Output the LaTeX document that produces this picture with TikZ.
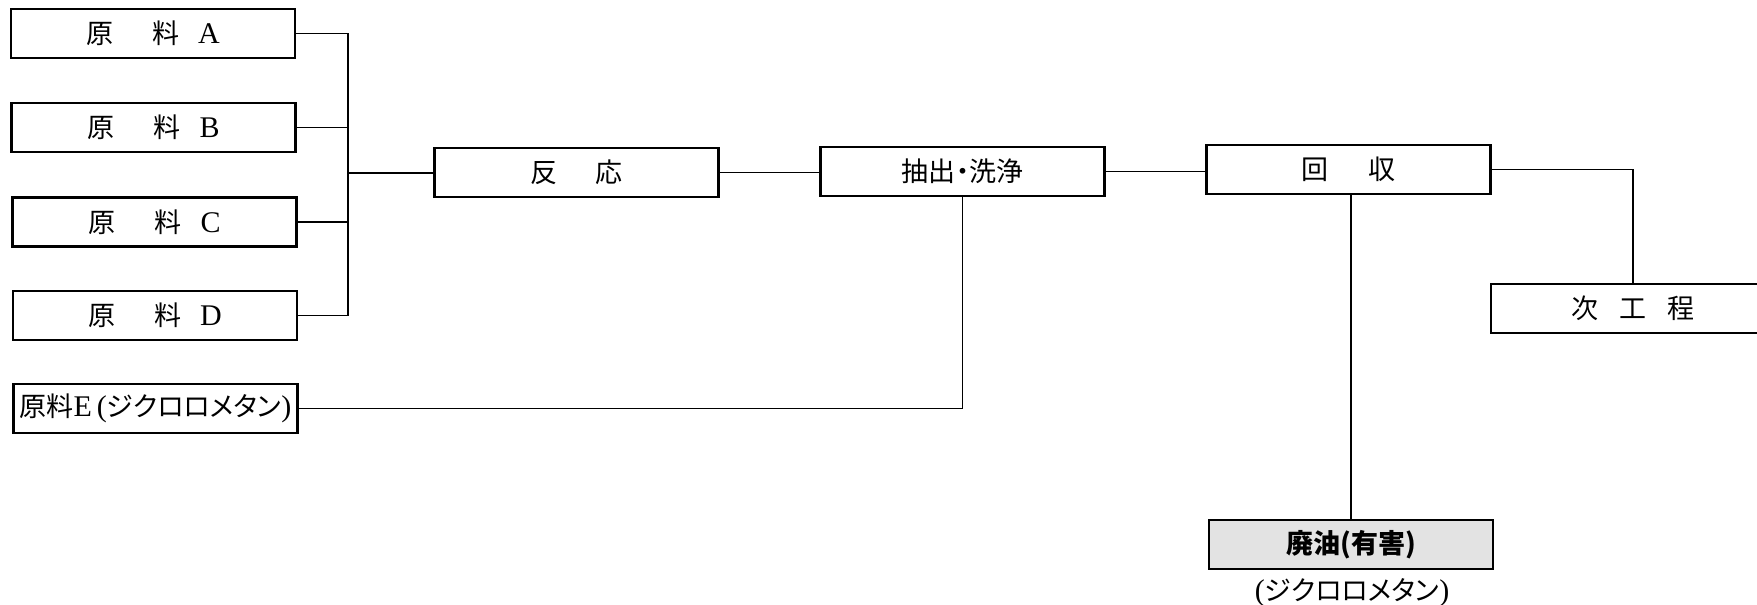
\documentclass[tikz,border=0pt]{standalone}
\usepackage{fontspec}
\setmainfont{Liberation Serif}
\newfontfamily\cjk{Noto Sans CJK JP}
\newfontfamily\cjkp[RawFeature=+palt]{Noto Sans CJK JP}
\newcommand{\lat}[1]{{\rmfamily\fontsize{15}{16}\selectfont #1}}
\begin{document}
\begin{tikzpicture}[x=0.5pt,y=-0.5pt,
  box/.style={draw, line width=1.2pt, minimum width=142pt, minimum height=24.5pt, inner sep=0pt,
    font=\fontsize{13.5}{16}\selectfont\cjk},
  wire/.style={line width=0.75pt},
  note/.style={inner sep=0pt, font=\fontsize{13.5}{16}\selectfont\cjkp}]
\clip (0,0) rectangle (1757,605);
% raw materials
\node[box] (A) at (153,33.5) {原\hspace{1.45em}料\hspace{0.7em}\lat{A}};
\node[box] (B) at (153.5,127.5) {原\hspace{1.45em}料\hspace{0.7em}\lat{B}};
\node[box] (C) at (154.5,222) {原\hspace{1.45em}料\hspace{0.7em}\lat{C}};
\node[box] (D) at (155,315.5) {原\hspace{1.45em}料\hspace{0.7em}\lat{D}};
\node[box] (E) at (155.5,408.5) {\cjkp 原料\lat{E\,(}ジクロロメタン\lat{)}};
% process
\node[box] (R) at (576.5,172.5) {反\hspace{1.4em}応};
\node[box] (X) at (962.5,171.5) {\cjkp 抽出・洗浄};
\node[box] (K) at (1348.5,169.5) {回\hspace{1.5em}収};
\node[box] (N) at (1633,308.5) {次\hspace{0.78em}工\hspace{0.78em}程};
\node[box, fill=gray!22] (W) at (1351,544.5) {\cjkp\bfseries 廃油(有害)};
\node[note] (L) at (1352,593) {\lat{(}ジクロロメタン\lat{)}};
% connectors
\coordinate (bus) at (348,173);
\draw[wire] (A.east) -| (bus);
\draw[wire] (B.east) -| (bus);
\draw[wire] (C.east) -| (bus);
\draw[wire] (D.east) -| (bus);
\draw[wire] (bus) -- (bus -| R.west);
\draw[wire] (R.east) -- (R.east -| X.west);
\draw[wire] (X.east) -- (X.east -| K.west);
\draw[wire] (E.east) -| (X.south);
\draw[wire] (K.east) -| (N.north);
\draw[wire] (W.north |- K.south) -- (W.north);
\end{tikzpicture}
\end{document}
